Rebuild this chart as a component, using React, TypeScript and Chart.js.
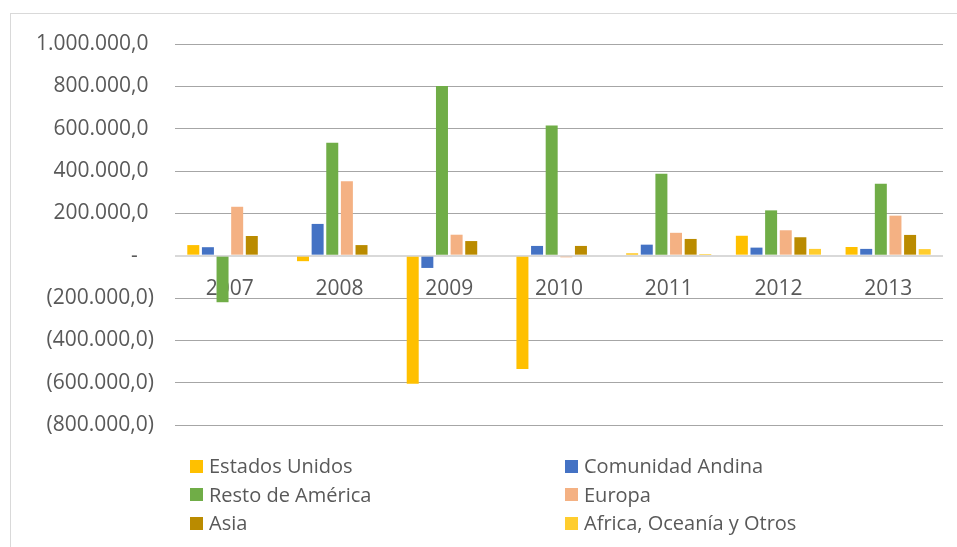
import { useEffect, useRef } from "react";
import { Chart, registerables } from "chart.js";

Chart.register(...registerables);

const categories = ["2007", "2008", "2009", "2010", "2011", "2012", "2013"];
const seriesNames = [
  "Estados Unidos",
  "Comunidad Andina",
  "Resto de América",
  "Europa",
  "Asia",
  "Africa, Oceanía y Otros",
];
const seriesColors = ["#FFC000", "#4472C4", "#70AD47", "#F4B183", "#BA8B00", "#FFCD2E"];

const estadosUnidos = [50000, -26000, -605000, -535000, 11000, 94000, 41000];
const comunidadAndina = [40000, 150000, -58000, 46000, 52000, 38000, 32000];
const restoDeAmerica = [-220000, 533000, 801000, 615000, 387000, 214000, 340000];
const europa = [231000, 352000, 99000, -8000, 108000, 120000, 189000];
const asia = [93000, 50000, 69000, 46000, 79000, 87000, 98000];
const africaOceania = [0, 0, 0, 0, 8000, 32000, 31000];

const yMin = -800000;
const yMax = 1000000;
const yStep = 200000;

const FONT = "'Open Sans', 'Noto Sans', sans-serif";
const TEXT = "#595959";

function fmt(v: number): string {
  if (v === 0) return "-   ";
  const abs = Math.abs(v);
  const s = Math.round(abs)
    .toString()
    .replace(/\B(?=(\d{3})+(?!\d))/g, ".");
  return v < 0 ? `(${s},0)` : `${s},0 `;
}

export default function App() {
  const ref = useRef<HTMLCanvasElement | null>(null);

  useEffect(() => {
    if (!ref.current) return;
    const values = [estadosUnidos, comunidadAndina, restoDeAmerica, europa, asia, africaOceania];
    const chart = new Chart(ref.current, {
      type: "bar",
      data: {
        labels: categories,
        datasets: values.map((d, i) => ({
          label: seriesNames[i],
          data: d,
          backgroundColor: seriesColors[i],
          borderWidth: 0,
          categoryPercentage: 0.8,
          barPercentage: 0.82,
        })),
      },
      options: {
        responsive: false,
        animation: false,
        devicePixelRatio: 1,
        layout: { padding: { top: 44, bottom: 122, left: 0, right: 14 } },
        plugins: {
          legend: { display: false },
          tooltip: { enabled: false },
          title: { display: false },
        },
        scales: {
          x: {
            position: { y: 0 } as any,
            grid: { display: false, drawTicks: false },
            border: { display: false },
            ticks: {
              color: TEXT,
              font: { family: FONT, size: 21 },
              padding: 21,
              maxRotation: 0,
            },
          },
          y: {
            min: yMin,
            max: yMax,
            afterFit: (scale: any) => {
              scale.width = 175;
            },
            ticks: {
              stepSize: yStep,
              color: TEXT,
              font: { family: FONT, size: 21 },
              padding: 21,
              callback: (v: any) => fmt(Number(v)),
            },
            grid: {
              drawTicks: false,
              color: (ctx: any) => (ctx.tick && ctx.tick.value === 0 ? "#d9d9d9" : "#a6a6a6"),
              lineWidth: (ctx: any) => (ctx.tick && ctx.tick.value === 0 ? 2 : 1),
            },
            border: { display: false },
          },
        },
      },
    });
    return () => chart.destroy();
  }, []);

  const rows = [0, 1, 2];
  return (
    <div
      style={{
        position: "fixed",
        left: 0,
        top: 0,
        width: 957,
        height: 547,
        background: "#ffffff",
        overflow: "hidden",
        fontFamily: FONT,
      }}
    >
      <div
        style={{
          position: "absolute",
          left: 10,
          top: 13,
          width: 1000,
          height: 600,
          border: "1px solid #d9d9d9",
          boxSizing: "border-box",
        }}
      />
      <canvas
        ref={ref}
        width={957}
        height={547}
        style={{ position: "absolute", left: 0, top: 0, width: 957, height: 547 }}
      />
      {seriesNames.map((name, i) => {
        const col = i % 2;
        const row = rows[Math.floor(i / 2)];
        const cy = 466 + row * 28.5;
        const bx = col === 0 ? 190 : 565;
        return (
          <div
            key={name}
            style={{
              position: "absolute",
              left: bx,
              top: cy - 14,
              height: 28,
              display: "flex",
              alignItems: "center",
              whiteSpace: "nowrap",
            }}
          >
            <span
              style={{
                display: "inline-block",
                width: 13,
                height: 13,
                background: seriesColors[i],
                marginRight: 6,
              }}
            />
            <span style={{ fontSize: 20, color: TEXT, lineHeight: "28px" }}>{name}</span>
          </div>
        );
      })}
    </div>
  );
}
